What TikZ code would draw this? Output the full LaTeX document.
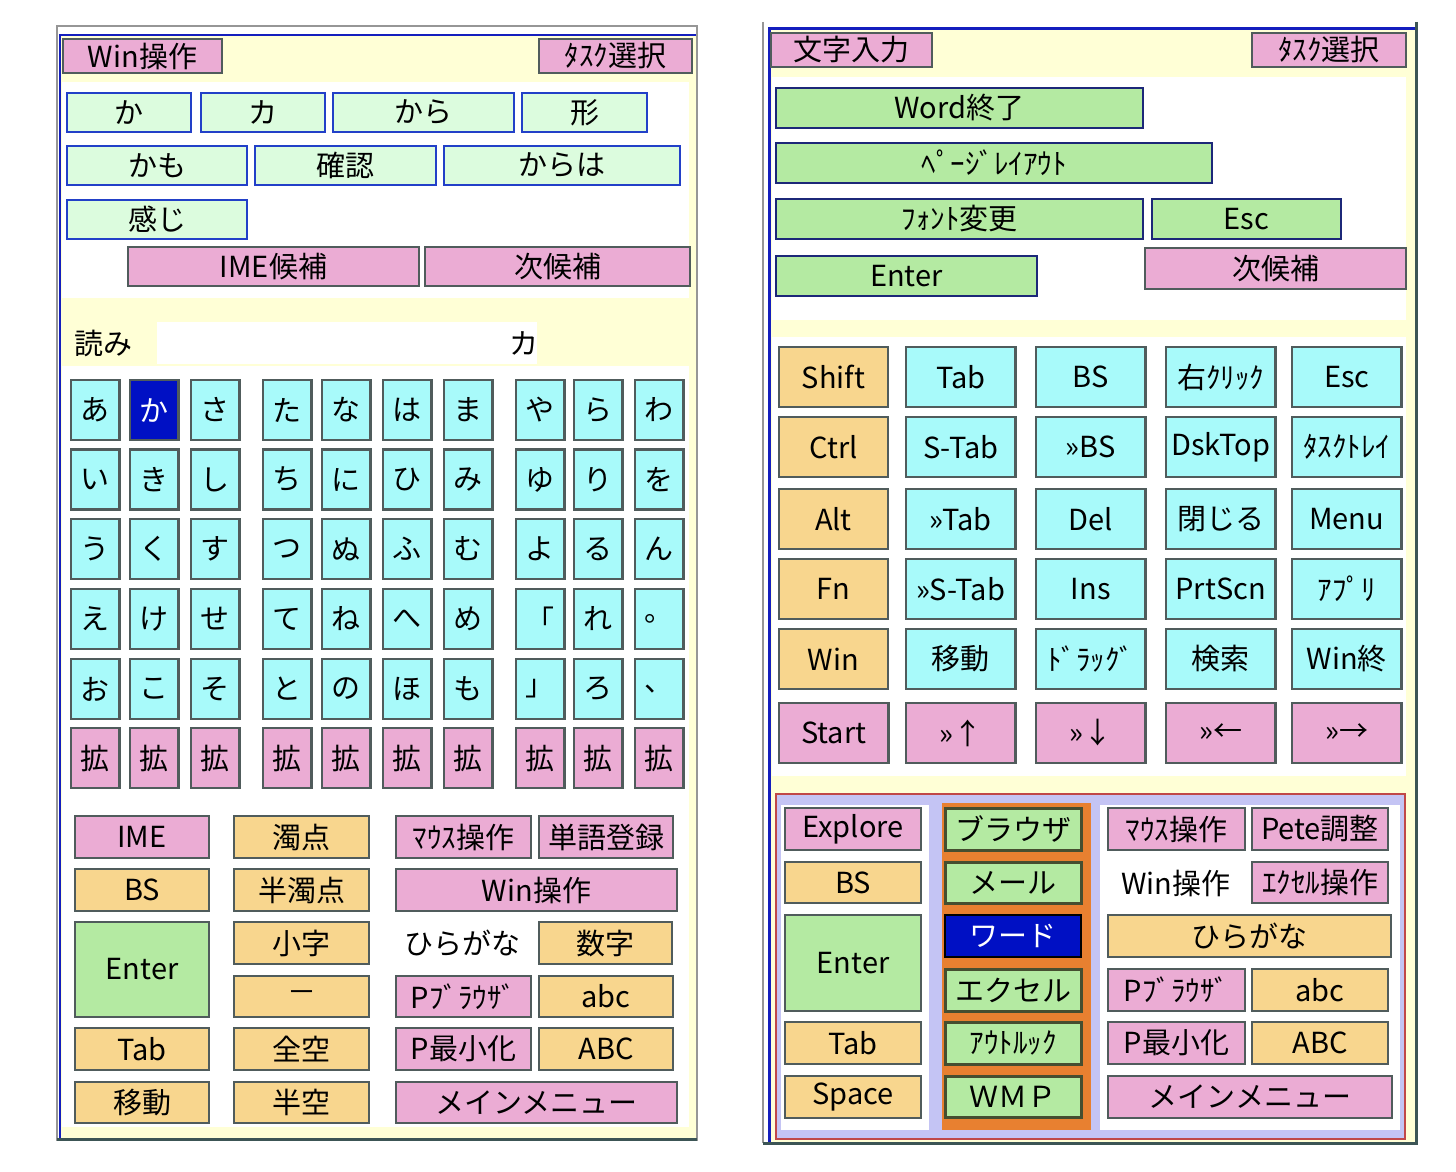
\documentclass[tikz,border=0pt]{standalone}
\usepackage{fontspec}
\setmainfont{Noto Sans CJK JP}
\usepackage{tikz}

\definecolor{keypink}{RGB}{235,172,212}
\definecolor{keymint}{RGB}{220,252,222}
\definecolor{keycyan}{RGB}{168,250,250}
\definecolor{keyorange}{RGB}{248,214,142}
\definecolor{keygreen}{RGB}{180,234,162}
\definecolor{keygray}{RGB}{80,92,92}
\definecolor{keyblue}{RGB}{34,64,200}
\definecolor{keynavy}{RGB}{28,40,120}
\definecolor{keyolive}{RGB}{70,78,48}
\definecolor{selblue}{RGB}{0,16,196}
\definecolor{paneyellow}{RGB}{255,255,214}
\definecolor{framegray}{RGB}{150,150,150}
\definecolor{frameblue}{RGB}{20,30,190}
\definecolor{framedark}{RGB}{60,85,85}
\definecolor{framered}{RGB}{192,72,72}
\definecolor{lavender}{RGB}{196,196,244}
\definecolor{apporange}{RGB}{232,128,48}

\newcommand{\keyfont}{\fontsize{29}{31}\selectfont}
% style, name, left, top, right, bottom, label
\newcommand{\KeyBox}[7]{%
  \node[#1,minimum width={#5-#3},minimum height={#6-#4}] (#2) at ({(#3+#5)/2},{(#4+#6)/2}) {#7};}
% name prefix, top, fill, labels (uses \klefts, \kw, \kh, \selname)
\newcommand{\KeyRow}[4]{%
  \foreach \k [count=\c] in {#4} {
    \pgfmathsetmacro{\kx}{\klefts[\c-1]}
    \edef\kname{#1\c}
    \ifx\kname\selname\def\kfill{selblue}\def\ktext{white}\else\def\kfill{#3}\def\ktext{black}\fi
    \node[KeyBase,fill=\kfill,text=\ktext,minimum width=\kw,minimum height=\kh] (\kname) at (\kx+\kw/2,#2+\kh/2) {\k};
  }}

\begin{document}
\begin{tikzpicture}[x=1pt,y=-1pt]
  \tikzstyle{KeyBase}=[draw=keygray,line width=2.6pt,inner sep=0pt,font=\keyfont]
  \tikzstyle{PinkKey}=[KeyBase,fill=keypink]
  \tikzstyle{MintKey}=[KeyBase,fill=keymint,draw=keyblue,line width=2.8pt]
  \tikzstyle{OrangeKey}=[KeyBase,fill=keyorange]
  \tikzstyle{GreenKey}=[KeyBase,fill=keygreen]
  \tikzstyle{NavyGreenKey}=[KeyBase,fill=keygreen,draw=keynavy,line width=2.8pt]
  \tikzstyle{AppKey}=[KeyBase,fill=keygreen,draw=keyolive,line width=3pt]
  \tikzstyle{SelKey}=[KeyBase,fill=selblue,draw=black,text=white]
  \tikzstyle{PlainText}=[inner sep=0pt,font=\keyfont]
  \useasboundingbox[fill=white] (0,0) rectangle (1456,1172);

  % left panel
  \fill[paneyellow] (60,35) rectangle (696,1139);
  \fill[white] (62,82) rectangle (689,298);
  \fill[white] (157,322) rectangle (537,364);
  \fill[white] (62,366) rectangle (689,1127);
  \draw[framegray,line width=2pt] (57,26) rectangle (697,1140);
  \draw[frameblue,line width=2.5pt] (60,1139) -- (60,35) -- (696,35);
  \draw[framedark,line width=3pt] (57,1139.5) -- (697,1139.5);

  \KeyBox{PinkKey}{winL}{63}{39}{222}{73}{Win操作}
  \KeyBox{PinkKey}{taskL}{539}{39}{692}{73}{ﾀｽｸ選択}
  \KeyBox{MintKey}{candA}{67}{93}{191}{132}{か}
  \KeyBox{MintKey}{candB}{201}{93}{325}{132}{カ}
  \KeyBox{MintKey}{candC}{333}{93}{514}{132}{から}
  \KeyBox{MintKey}{candD}{522}{93}{647}{132}{形}
  \KeyBox{MintKey}{candE}{67}{146}{247}{185}{かも}
  \KeyBox{MintKey}{candF}{255}{146}{436}{185}{確認}
  \KeyBox{MintKey}{candG}{444}{146}{680}{185}{からは}
  \KeyBox{MintKey}{candH}{67}{200}{247}{239}{感じ}
  \KeyBox{PinkKey}{imeCand}{128}{247}{419}{286}{IME候補}
  \KeyBox{PinkKey}{nextCandL}{425}{247}{690}{286}{次候補}
  \node[PlainText] (yomiLabel) at (103,343) {読み};
  \node[PlainText] (yomiText) at (524,343) {カ};

  \def\klefts{{71,130,191,263,322,383,444,516,574,635}}\def\kw{48.5}\def\kh{60}\def\selname{kana1-2}
  \KeyRow{kana1-}{380}{keycyan}{あ,か,さ,た,な,は,ま,や,ら,わ}
  \KeyRow{kana2-}{449.5}{keycyan}{い,き,し,ち,に,ひ,み,ゆ,り,を}
  \KeyRow{kana3-}{519}{keycyan}{う,く,す,つ,ぬ,ふ,む,よ,る,ん}
  \KeyRow{kana4-}{589}{keycyan}{え,け,せ,て,ね,へ,め,「,れ,。}
  \KeyRow{kana5-}{659}{keycyan}{お,こ,そ,と,の,ほ,も,」,ろ,、}
  \KeyRow{kana6-}{728}{keypink}{拡,拡,拡,拡,拡,拡,拡,拡,拡,拡}

  \KeyBox{PinkKey}{imeL}{75}{816}{209}{858}{IME}
  \KeyBox{OrangeKey}{bsL}{75}{869}{209}{911}{BS}
  \KeyBox{GreenKey}{enterL}{75}{922}{209}{1017}{Enter}
  \KeyBox{OrangeKey}{tabL}{75}{1028}{209}{1070}{Tab}
  \KeyBox{OrangeKey}{moveL}{75}{1082}{209}{1123}{移動}
  \KeyBox{OrangeKey}{dakuten}{234}{816}{369}{858}{濁点}
  \KeyBox{OrangeKey}{handakuten}{234}{869}{369}{911}{半濁点}
  \KeyBox{OrangeKey}{smallKana}{234}{922}{369}{964}{小字}
  \KeyBox{OrangeKey}{dash}{234}{976}{369}{1017}{－}
  \KeyBox{OrangeKey}{fullSp}{234}{1028}{369}{1070}{全空}
  \KeyBox{OrangeKey}{halfSp}{234}{1082}{369}{1123}{半空}
  \KeyBox{PinkKey}{mouseL}{396}{816}{531}{858}{ﾏｳｽ操作}
  \KeyBox{PinkKey}{wordReg}{539}{816}{673}{858}{単語登録}
  \KeyBox{PinkKey}{winOpL}{396}{869}{677}{911}{Win操作}
  \node[PlainText] (hiraL) at (462,943) {ひらがな};
  \KeyBox{OrangeKey}{numL}{539}{922}{672}{964}{数字}
  \KeyBox{PinkKey}{pBrowserL}{396}{976}{531}{1017}{Pﾌﾞﾗｳｻﾞ}
  \KeyBox{OrangeKey}{lowerL}{539}{976}{673}{1017}{abc}
  \KeyBox{PinkKey}{pMinL}{396}{1028}{531}{1070}{P最小化}
  \KeyBox{OrangeKey}{upperL}{539}{1028}{673}{1070}{ABC}
  \KeyBox{PinkKey}{mainMenuL}{396}{1082}{677}{1123}{メインメニュー}

  % right panel
  \fill[paneyellow] (769,30) rectangle (1415,1142);
  \fill[white] (772,77) rectangle (1406,320);
  \fill[white] (772,337) rectangle (1406,776);
  \draw[framegray,line width=2pt] (763,22) -- (763,1143);
  \draw[frameblue,line width=3pt] (769,1142) -- (769,29) -- (1416,29);
  \draw[framedark,line width=3pt] (1416,22) -- (1416,1143) -- (763,1143);

  \KeyBox{PinkKey}{charIn}{771}{33}{932}{67}{文字入力}
  \KeyBox{PinkKey}{taskR}{1252}{33}{1406}{67}{ﾀｽｸ選択}
  \KeyBox{NavyGreenKey}{wordQuit}{776}{88}{1143}{128}{Word終了}
  \KeyBox{NavyGreenKey}{pageLayout}{776}{143}{1212}{183}{ﾍﾟｰｼﾞﾚｲｱｳﾄ}
  \KeyBox{NavyGreenKey}{fontChg}{776}{199}{1143}{239}{ﾌｫﾝﾄ変更}
  \KeyBox{NavyGreenKey}{escTop}{1152}{199}{1341}{239}{Esc}
  \KeyBox{NavyGreenKey}{enterTop}{776}{256}{1037}{296}{Enter}
  \KeyBox{PinkKey}{nextCandR}{1145}{248}{1406}{289}{次候補}

  \foreach \ftop/\ftxt [count=\r] in {347/Shift,417/Ctrl,489/Alt,559/Fn,629/Win}{
    \KeyBox{OrangeKey}{mod\r}{779}{\ftop}{888}{\ftop+60}{\ftxt}
  }
  \def\klefts{{906,1036,1166,1292}}\def\kw{109.5}\def\kh{60}
  \KeyRow{fn1-}{347}{keycyan}{Tab,BS,右ｸﾘｯｸ,Esc}
  \KeyRow{fn2-}{417}{keycyan}{S-Tab,»BS,DskTop,ﾀｽｸﾄﾚｲ}
  \KeyRow{fn3-}{489}{keycyan}{»Tab,Del,閉じる,Menu}
  \KeyRow{fn4-}{559}{keycyan}{»S-Tab,Ins,PrtScn,ｱﾌﾟﾘ}
  \KeyRow{fn5-}{629}{keycyan}{移動,ﾄﾞﾗｯｸﾞ,検索,Win終}
  \def\klefts{{779,906,1036,1166,1292}}
  \KeyRow{fn6-}{703}{keypink}{Start,»↑,»↓,»←,»→}

  \draw[framered,fill=lavender,line width=2pt] (776,794) rectangle (1405,1139);
  \fill[white] (781,805) rectangle (929,1130);
  \fill[apporange] (942,803) rectangle (1091,1130);
  \fill[white] (1100,805) rectangle (1400,1130);

  \KeyBox{PinkKey}{explore}{785}{808}{921}{850}{Explore}
  \KeyBox{OrangeKey}{bsR}{785}{862}{921}{903}{BS}
  \KeyBox{GreenKey}{enterR}{785}{915}{921}{1011}{Enter}
  \KeyBox{OrangeKey}{tabR}{785}{1022}{921}{1064}{Tab}
  \KeyBox{OrangeKey}{spaceR}{785}{1076}{921}{1118}{Space}
  \KeyBox{AppKey}{appBrowser}{945}{808}{1081}{850}{ブラウザ}
  \KeyBox{AppKey}{appMail}{945}{862}{1081}{903}{メール}
  \KeyBox{SelKey}{appWord}{945}{915}{1081}{957}{ワード}
  \KeyBox{AppKey}{appExcel}{945}{969}{1081}{1011}{エクセル}
  \KeyBox{AppKey}{appOutlook}{945}{1022}{1081}{1064}{ｱｳﾄﾙｯｸ}
  \KeyBox{AppKey}{appWmp}{945}{1076}{1081}{1117}{ＷＭＰ}
  \KeyBox{PinkKey}{mouseR}{1108}{808}{1245}{850}{ﾏｳｽ操作}
  \KeyBox{PinkKey}{peteAdj}{1252}{808}{1388}{850}{Pete調整}
  \node[PlainText] (winOpR) at (1176,883) {Win操作};
  \KeyBox{PinkKey}{excelOp}{1252}{862}{1388}{903}{ｴｸｾﾙ操作}
  \KeyBox{OrangeKey}{hiraR}{1108}{915}{1391}{957}{ひらがな}
  \KeyBox{PinkKey}{pBrowserR}{1108}{969}{1245}{1011}{Pﾌﾞﾗｳｻﾞ}
  \KeyBox{OrangeKey}{lowerR}{1252}{969}{1388}{1011}{abc}
  \KeyBox{PinkKey}{pMinR}{1108}{1022}{1245}{1064}{P最小化}
  \KeyBox{OrangeKey}{upperR}{1252}{1022}{1388}{1064}{ABC}
  \KeyBox{PinkKey}{mainMenuR}{1108}{1076}{1392}{1118}{メインメニュー}
\end{tikzpicture}
\end{document}
